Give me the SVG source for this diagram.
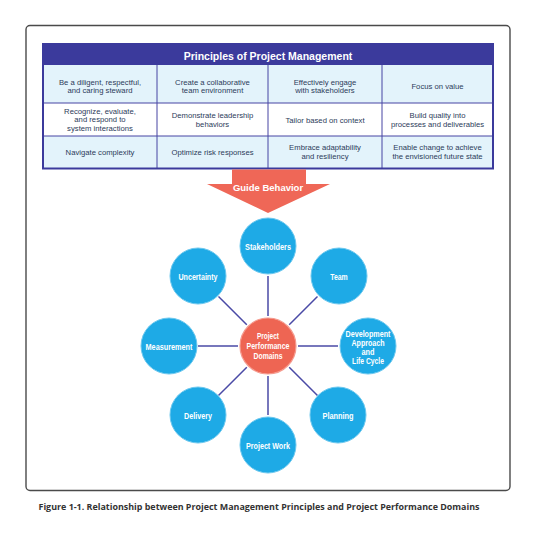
<svg xmlns="http://www.w3.org/2000/svg" width="540" height="533" viewBox="0 0 540 533">
<style>
.frame{fill:#fff;stroke:#4a4a4a;stroke-width:1.4}
.hdr{fill:#3b3a9c}
.cellA{fill:#e3f3fb}
.cellB{fill:#fff}
.grid{stroke:#4645a3;stroke-width:1;fill:none}
.border{stroke:#3b3a9c;stroke-width:2;fill:none}
.ttl{font-family:"Liberation Sans",Arial,sans-serif;font-weight:700;font-size:10.5px;fill:#fff;text-anchor:middle}
.cell{font-family:"Liberation Sans",Arial,sans-serif;font-size:7.7px;fill:#2c3b5a;text-anchor:middle}
.arrow{fill:#ef6757}
.gb{font-family:"Liberation Sans",Arial,sans-serif;font-weight:700;font-size:9.5px;fill:#fff;text-anchor:middle}
.node{fill:#1eaae6;stroke:#6cc8ef;stroke-width:1}
.center{fill:#ee6553;stroke:#f59a8e;stroke-width:1.2}
.lbl{font-family:"Liberation Sans",Arial,sans-serif;font-weight:700;font-size:9.5px;fill:#fff;text-anchor:middle}
.sm{font-size:8.3px}
.conn line{stroke:#4a4aa6;stroke-width:1.5}
.cap{font-family:"Open Sans","Liberation Sans",sans-serif;font-weight:700;font-size:8.5px;fill:#333;text-anchor:middle}
</style>
<rect class="frame" x="26" y="25.5" width="484" height="465" rx="4"/>
<g id="principles">
<rect class="hdr" x="43" y="44" width="450" height="21"/>
<text class="ttl" x="268" y="59.5">Principles of Project Management</text>
<rect class="cellA" x="43" y="65" width="450" height="38"/>
<rect class="cellB" x="43" y="103" width="450" height="33"/>
<rect class="cellA" x="43" y="136" width="450" height="32.5"/>
<path class="grid" d="M43 103H493M43 136H493M157 65V168.5M268 65V168.5M382 65V168.5"/>
<rect class="border" x="43" y="44" width="450" height="124.5"/>
<text class="cell" x="100" y="84.5">Be a diligent, respectful,</text>
<text class="cell" x="100" y="93">and caring steward</text>
<text class="cell" x="212.5" y="84.5">Create a collaborative</text>
<text class="cell" x="212.5" y="93">team environment</text>
<text class="cell" x="325" y="84.5">Effectively engage</text>
<text class="cell" x="325" y="93">with stakeholders</text>
<text class="cell" x="437.5" y="89">Focus on value</text>
<text class="cell" x="100" y="113.5">Recognize, evaluate,</text>
<text class="cell" x="100" y="122.3">and respond to</text>
<text class="cell" x="100" y="131">system interactions</text>
<text class="cell" x="212.5" y="118">Demonstrate leadership</text>
<text class="cell" x="212.5" y="126.7">behaviors</text>
<text class="cell" x="325" y="122.5">Tailor based on context</text>
<text class="cell" x="437.5" y="118">Build quality into</text>
<text class="cell" x="437.5" y="126.7">processes and deliverables</text>
<text class="cell" x="100" y="154.5">Navigate complexity</text>
<text class="cell" x="212.5" y="154.5">Optimize risk responses</text>
<text class="cell" x="325" y="150">Embrace adaptability</text>
<text class="cell" x="325" y="158.7">and resiliency</text>
<text class="cell" x="437.5" y="150">Enable change to achieve</text>
<text class="cell" x="437.5" y="158.7">the envisioned future state</text>
</g>
<g id="guide-behavior">
<polygon class="arrow" points="232,169.5 306,169.5 306,184 330,184 268,213 207,184 232,184"/>
<text class="gb" x="268" y="190.5">Guide Behavior</text>
</g>
<g class="conn" id="connectors">
<line x1="268" y1="316" x2="268" y2="276"/>
<line x1="289.2" y1="324.8" x2="317.5" y2="296.5"/>
<line x1="298" y1="346" x2="338" y2="346"/>
<line x1="289.2" y1="367.2" x2="317.5" y2="395.5"/>
<line x1="268" y1="376" x2="268" y2="415"/>
<line x1="246.8" y1="367.2" x2="218.5" y2="395.5"/>
<line x1="238" y1="346" x2="198" y2="346"/>
<line x1="246.8" y1="324.8" x2="218.5" y2="296.5"/>
</g>
<g id="domains">
<circle class="center" cx="268" cy="346" r="28"/>
<text class="lbl" x="268" y="338.5" textLength="22" lengthAdjust="spacingAndGlyphs">Project</text>
<text class="lbl" x="268" y="348.5" textLength="43" lengthAdjust="spacingAndGlyphs">Performance</text>
<text class="lbl" x="268" y="358.5" textLength="29" lengthAdjust="spacingAndGlyphs">Domains</text>
</g>
<g id="stakeholders"><circle class="node" cx="268" cy="246" r="28"/><text class="lbl" x="268" y="249.5" textLength="46" lengthAdjust="spacingAndGlyphs">Stakeholders</text></g>
<g id="team"><circle class="node" cx="339" cy="276" r="28"/><text class="lbl" x="339" y="279.5" textLength="17.5" lengthAdjust="spacingAndGlyphs">Team</text></g>
<g id="development"><circle class="node" cx="368" cy="346" r="28"/>
<text class="lbl sm" x="368" y="337" textLength="45" lengthAdjust="spacingAndGlyphs">Development</text>
<text class="lbl sm" x="368" y="346" textLength="33" lengthAdjust="spacingAndGlyphs">Approach</text>
<text class="lbl sm" x="368" y="355.3" textLength="13" lengthAdjust="spacingAndGlyphs">and</text>
<text class="lbl sm" x="368" y="364.3" textLength="32" lengthAdjust="spacingAndGlyphs">Life Cycle</text></g>
<g id="planning"><circle class="node" cx="338" cy="415" r="28"/><text class="lbl" x="338" y="418.5" textLength="31" lengthAdjust="spacingAndGlyphs">Planning</text></g>
<g id="project-work"><circle class="node" cx="268" cy="445" r="28"/><text class="lbl" x="268" y="448.5" textLength="44" lengthAdjust="spacingAndGlyphs">Project Work</text></g>
<g id="delivery"><circle class="node" cx="198" cy="415" r="28"/><text class="lbl" x="198" y="418.5" textLength="28" lengthAdjust="spacingAndGlyphs">Delivery</text></g>
<g id="measurement"><circle class="node" cx="169" cy="346" r="28"/><text class="lbl" x="169" y="349.5" textLength="47" lengthAdjust="spacingAndGlyphs">Measurement</text></g>
<g id="uncertainty"><circle class="node" cx="198" cy="276" r="28"/><text class="lbl" x="198" y="279.5" textLength="39" lengthAdjust="spacingAndGlyphs">Uncertainty</text></g>
<text class="cap" x="259" y="510" textLength="441" lengthAdjust="spacingAndGlyphs">Figure 1-1. Relationship between Project Management Principles and Project Performance Domains</text>
</svg>
